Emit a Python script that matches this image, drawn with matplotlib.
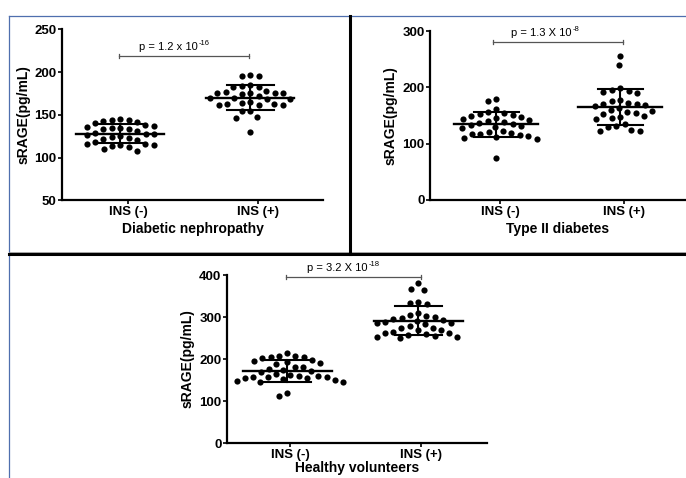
import numpy as np
import matplotlib
matplotlib.use('Agg')
import matplotlib.pyplot as plt
from matplotlib.lines import Line2D

plt.rcParams['font.family'] = ['Liberation Sans', 'DejaVu Sans']

groups = ['INS (-)', 'INS (+)']

# sRAGE values (pg/mL)
dn_neg = [145, 144, 144, 143, 142, 140, 138, 137, 136, 135, 134, 133, 133, 131, 129, 128,
          127, 126, 125, 124, 123, 122, 120, 118, 116, 116, 115, 115, 114, 112, 110, 108]
dn_pos = [196, 195, 195, 185, 184, 183, 182, 178, 177, 176, 176, 175, 175, 174, 172, 170,
          170, 169, 168, 165, 164, 163, 163, 162, 162, 161, 155, 154, 148, 146, 130]
t2_neg = [180, 175, 162, 156, 155, 152, 151, 150, 148, 145, 143, 142, 140, 138, 136, 135,
          133, 131, 130, 128, 122, 120, 119, 118, 117, 115, 113, 111, 110, 109, 75]
t2_pos = [255, 240, 198, 195, 193, 192, 190, 178, 175, 172, 170, 170, 168, 166, 163, 160,
          158, 157, 155, 152, 150, 148, 145, 143, 135, 132, 130, 125, 123, 122]
hv_neg = [215, 207, 206, 205, 204, 203, 198, 196, 193, 190, 188, 182, 180, 177, 175, 172,
          168, 165, 163, 160, 159, 158, 157, 156, 155, 154, 152, 150, 148, 146, 145, 120, 112]
hv_pos = [380, 367, 365, 336, 334, 330, 310, 305, 303, 300, 298, 296, 292, 290, 288, 286,
          285, 283, 278, 275, 273, 270, 268, 265, 263, 262, 260, 258, 255, 253, 252, 250]

W, H = 686, 478
fig = plt.figure(figsize=(W / 100, H / 100), dpi=100)


def swarm(vals, xc, ppx, ppy, d=8.5):
    # simple beeswarm in pixel space
    vals = np.asarray(vals, float)
    xs = np.zeros(len(vals))
    placed = []
    for i in np.argsort(-vals):
        yp = vals[i] * ppy
        k = 0.0
        while True:
            hit = None
            for off in ([0.0] if k == 0 else [-k, k]):
                if all((off - a) ** 2 + (yp - b) ** 2 >= d * d for a, b in placed):
                    hit = off
                    break
            if hit is not None:
                break
            k += 0.5
        placed.append((hit, yp))
        xs[i] = xc + hit / ppx
    return xs


def panel(rect, neg, pos, ylim, yticks, xlim, xlabel, pbase, pexp, py, pspan, shift, xpad=3):
    ax = fig.add_axes([rect[0] / W, 1 - rect[3] / H, (rect[2] - rect[0]) / W, (rect[3] - rect[1]) / H])
    ax.set_xlim(xlim)
    ax.set_ylim(ylim)
    ppx = (rect[2] - rect[0]) / (xlim[1] - xlim[0])
    ppy = (rect[3] - rect[1]) / (ylim[1] - ylim[0])
    for i, vals in enumerate([neg, pos]):
        xc = i + shift
        xs = swarm(vals, xc, ppx, ppy)
        ax.scatter(xs, vals, s=20, color='black', zorder=3, linewidths=0, clip_on=False)
        m = np.mean(vals)
        sd = np.std(vals, ddof=1)
        ax.plot([xc - 0.34, xc + 0.34], [m, m], color='black', lw=1.7, zorder=4)
        ax.plot([xc, xc], [m - sd, m + sd], color='black', lw=1.5, zorder=4)
        for yy in (m - sd, m + sd):
            ax.plot([xc - 0.18, xc + 0.18], [yy, yy], color='black', lw=1.5, zorder=4)
    # p-value bracket
    ax.plot(pspan, [py, py], color='#555555', lw=0.9, clip_on=False)
    for xx in pspan:
        ax.plot([xx, xx], [py - 2 / ppy, py + 2 / ppy], color='#555555', lw=0.9, clip_on=False)
    cx = np.mean(pspan) + 14 / ppx
    ax.text(cx, py + 4 / ppy, pbase, ha='right', va='bottom', fontsize=8)
    ax.text(cx + 1 / ppx, py + 9 / ppy, pexp, ha='left', va='bottom', fontsize=5.5)
    for s in ('top', 'right'):
        ax.spines[s].set_visible(False)
    for s in ('left', 'bottom'):
        ax.spines[s].set_linewidth(1.6)
    ax.set_xticks([0, 1])
    ax.set_xticklabels(groups, fontsize=9.5, fontweight='bold')
    ax.set_yticks(yticks)
    ax.set_yticklabels([str(t) for t in yticks], fontsize=9.5, fontweight='bold')
    ax.tick_params(axis='both', length=3, width=1.2, pad=1)
    ax.set_ylabel('sRAGE(pg/mL)', fontsize=10, fontweight='bold', labelpad=3)
    ax.set_xlabel(xlabel, fontsize=10, fontweight='bold', labelpad=xpad)
    return ax


panel((62, 29.3, 323, 200.3), dn_neg, dn_pos, (50, 250), [50, 100, 150, 200, 250],
      (-0.508, 1.5), 'Diabetic nephropathy', 'p = 1.2 x 10', '-16', 219, (-0.07, 0.93), -0.06)
panel((430, 31, 686, 200), t2_neg, t2_pos, (0, 300), [0, 100, 200, 300],
      (-0.565, 1.5), 'Type II diabetes', 'p = 1.3 X 10', '-8', 280, (-0.06, 0.99), -0.03)
panel((227, 275, 487, 443), hv_neg, hv_pos, (0, 400), [0, 100, 200, 300, 400],
      (-0.482, 1.507), 'Healthy volunteers', 'p = 3.2 X 10', '-18', 396, (-0.03, 1.0), -0.02,
      xpad=0)

# panel frames
def fline(x, y, **kw):
    fig.add_artist(Line2D([xx / W for xx in x], [1 - yy / H for yy in y], **kw))

fline([8.5, 686], [15.7, 15.7], color='#4f6fae', lw=0.9)
fline([8.5, 8.5], [15.7, 478], color='#4f6fae', lw=0.9)
fline([8.5, 686], [252, 252], color='#999999', lw=0.6)
fline([8.5, 686], [254, 254], color='black', lw=2.2)
fline([350, 350], [15.7, 254], color='black', lw=2.2)

fig.savefig('out.png', dpi=100)
